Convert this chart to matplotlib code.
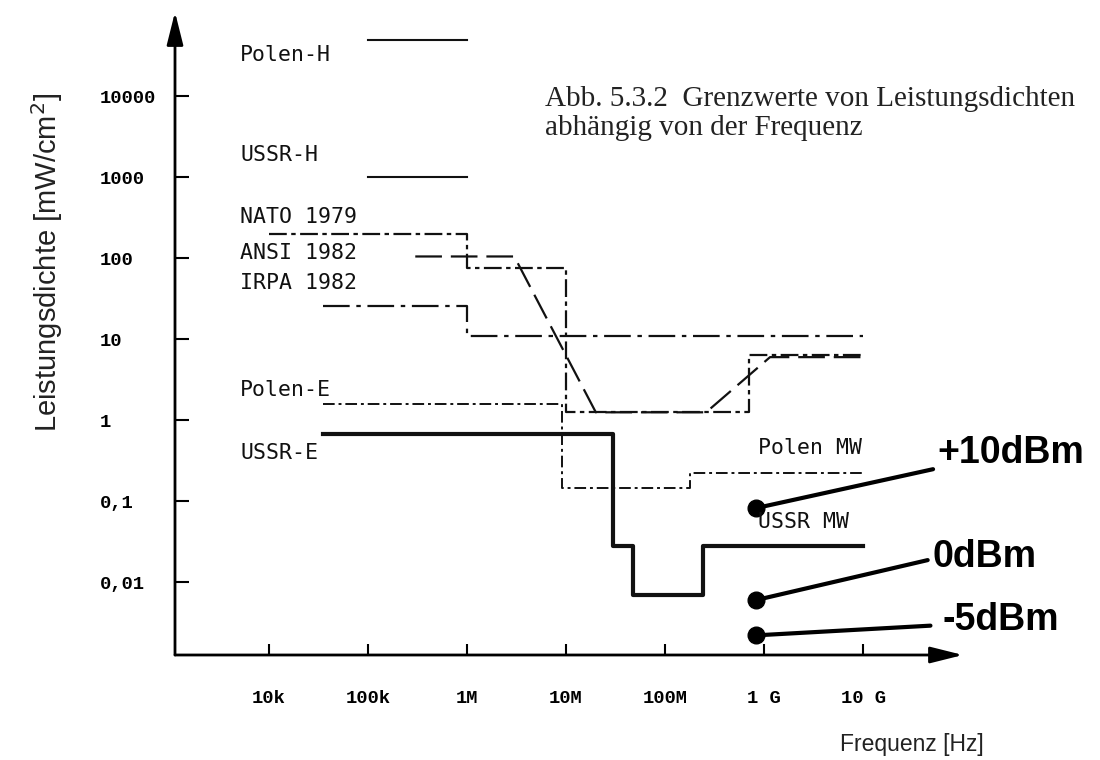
import matplotlib
matplotlib.use('Agg')
import matplotlib.pyplot as plt
from matplotlib.ticker import NullLocator

# axis ticks
freq_ticks = [1e4, 1e5, 1e6, 1e7, 1e8, 1e9, 1e10]
freq_labels = ['10k', '100k', '1M', '10M', '100M', '1 G', '10 G']
dens_ticks = [1e4, 1e3, 1e2, 1e1, 1, 1e-1, 1e-2]
dens_labels = ['10000', '1000', '100', '10', '1', '0,1', '0,01']

# limit curves: frequency [Hz] / power density [mW/cm^2]
polen_h_f = [1e5, 1e6]
polen_h_v = [5e4, 5e4]

ussr_h_f = [1e5, 1e6]
ussr_h_v = [1000, 1000]

nato_f = [1e4, 1e6, 1e6, 1e7, 1e7, 7e8, 7e8, 1e10]
nato_v = [200, 200, 75, 75, 1.25, 1.25, 6.3, 6.3]

ansi_f = [3e5, 3e6, 2e7, 2.6e8, 1.15e9, 1e10]
ansi_v = [105, 105, 1.25, 1.25, 6.0, 6.0]

irpa_f = [3.5e4, 1e6, 1e6, 1e10]
irpa_v = [26, 26, 11, 11]

polen_e_f = [3.5e4, 9e6, 9e6, 1.8e8, 1.8e8, 1e10]
polen_e_v = [1.6, 1.6, 0.145, 0.145, 0.22, 0.22]

ussr_e_f = [3.5e4, 3e7, 3e7, 4.8e7, 4.8e7, 2.4e8, 2.4e8, 1e10]
ussr_e_v = [0.68, 0.68, 0.028, 0.028, 0.007, 0.007, 0.028, 0.028]

# series names and where they are written
names = ['Polen-H', 'USSR-H', 'NATO 1979', 'ANSI 1982', 'IRPA 1982',
         'Polen-E', 'USSR-E', 'Polen MW', 'USSR MW']
name_f = [5.1e3, 5.1e3, 5.1e3, 5.1e3, 5.1e3, 5.1e3, 5.1e3, 8.7e8, 8.7e8]
name_v = [3.2e4, 1.87e3, 321, 115, 49, 2.34, 0.39, 0.45, 0.055]

# dBm markers
dbm_labels = ['+10dBm', '0dBm', '-5dBm']
dbm_f = [8.3e8, 8.3e8, 8.3e8]
dbm_v = [0.082, 0.006, 0.0022]
dbm_end_f = [5.1e10, 4.5e10, 4.8e10]
dbm_end_v = [0.248, 0.0187, 0.0029]
dbm_text_f = [5.6e10, 5.0e10, 6.4e10]
dbm_text_v = [0.39, 0.0204, 0.0034]

W, H = 1100, 760
fig = plt.figure(figsize=(11, 7.6), dpi=100)
ax = fig.add_axes([175 / W, 1 - 655 / H, (963 - 175) / W, (655 - 12) / H])
ax.set_xscale('log')
ax.set_yscale('log')
ax.set_xlim(10 ** 3.05, 10 ** 11.01)
ax.set_ylim(10 ** -2.90, 10 ** 5.04)
for s in ax.spines.values():
    s.set_visible(False)

# axes with arrow heads
arrow = dict(arrowstyle='-|>,head_length=1.0,head_width=0.25', lw=2,
             color='k', mutation_scale=20, shrinkA=0, shrinkB=0)
ax.annotate('', xy=(1, 0), xytext=(0, 0), xycoords='axes fraction',
            arrowprops=arrow)
ax.annotate('', xy=(0, 1), xytext=(0, 0), xycoords='axes fraction',
            arrowprops=arrow)

tickfont = dict(family='Liberation Mono', weight='bold', size=13.5)
ax.set_xticks(freq_ticks, freq_labels, **tickfont)
ax.set_yticks(dens_ticks, dens_labels, **tickfont)
ax.xaxis.set_minor_locator(NullLocator())
ax.yaxis.set_minor_locator(NullLocator())
ax.tick_params(axis='x', direction='in', length=8, width=1.5, pad=25)
ax.tick_params(axis='y', direction='in', length=10, width=1.5, pad=54)
for lbl in ax.get_yticklabels():
    lbl.set_horizontalalignment('left')

k = '#111111'
ax.plot(polen_h_f, polen_h_v, color=k, lw=1.5)
ax.plot(ussr_h_f, ussr_h_v, color=k, lw=1.5)
ax.plot(nato_f, nato_v, color=k, lw=1.6, ls=(0, (8, 2, 2, 2)))
ax.plot(ansi_f, ansi_v, color=k, lw=1.6, ls=(0, (12, 4)))
ax.plot(irpa_f, irpa_v, color=k, lw=1.6, ls=(0, (12, 3, 2, 3)))
ax.plot(polen_e_f, polen_e_v, color=k, lw=1.4, ls=(0, (6, 2, 1.5, 2)))
ax.plot(ussr_e_f, ussr_e_v, color=k, lw=3)

for name, f, v in zip(names, name_f, name_v):
    ax.text(f, v, name, family='DejaVu Sans Mono', size=15.5,
            ha='left', va='center', color=k)

for lab, f, v, fe, ve, ft, vt in zip(dbm_labels, dbm_f, dbm_v, dbm_end_f,
                                     dbm_end_v, dbm_text_f, dbm_text_v):
    ax.plot([f, fe], [v, ve], color='k', lw=3, solid_capstyle='round',
            clip_on=False)
    ax.plot(f, v, 'o', color='k', ms=12, clip_on=False)
    ax.text(ft, vt, lab, family='Liberation Sans', weight='bold', size=27,
            ha='left', va='center')

fig.text(47 / W, 1 - 262 / H, 'Leistungsdichte [mW/cm$^{2}$]',
         family='Liberation Sans', size=21, rotation=90,
         ha='center', va='center', color='#222222')
fig.text(912 / W, 1 - 745 / H, 'Frequenz [Hz]', family='Liberation Sans',
         size=16.5, ha='center', va='center', color='#222222')
fig.text(545 / W, 1 - 106 / H, 'Abb. 5.3.2  Grenzwerte von Leistungsdichten',
         family='Liberation Serif', size=21, ha='left', va='baseline',
         color='#222222')
fig.text(545 / W, 1 - 135 / H, 'abhängig von der Frequenz',
         family='Liberation Serif', size=21, ha='left', va='baseline',
         color='#222222')

fig.savefig('out.png', dpi=100)
